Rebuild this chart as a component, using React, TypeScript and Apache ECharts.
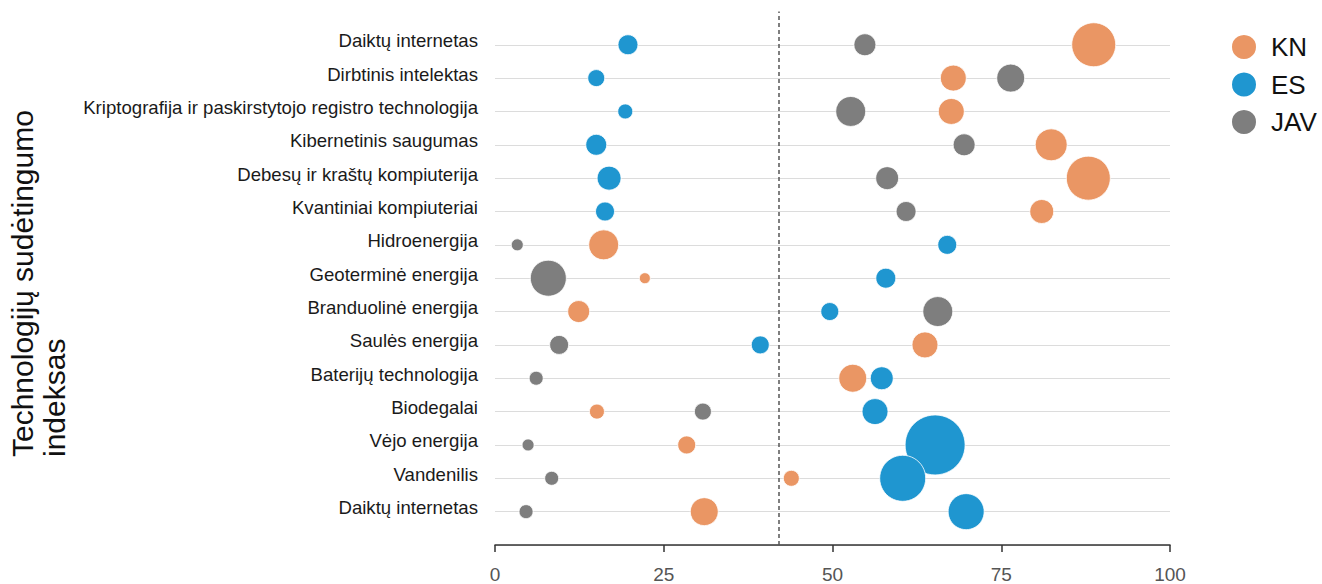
import React, { useEffect, useRef } from "react";
import * as echarts from "echarts";

const categories = [
  "Daiktų internetas",
  "Dirbtinis intelektas",
  "Kriptografija ir paskirstytojo registro technologija",
  "Kibernetinis saugumas",
  "Debesų ir kraštų kompiuterija",
  "Kvantiniai kompiuteriai",
  "Hidroenergija",
  "Geoterminė energija",
  "Branduolinė energija",
  "Saulės energija",
  "Baterijų technologija",
  "Biodegalai",
  "Vėjo energija",
  "Vandenilis",
  "Daiktų internetas",
];

const seriesNames = ["KN", "ES", "JAV"];

// index values (x) per category, top to bottom
const knValues = [88.7, 67.9, 67.6, 82.4, 87.9, 81.0, 16.1, 22.2, 12.4, 63.7, 53.0, 15.1, 28.4, 43.9, 31.0];
const esValues = [19.7, 15.0, 19.3, 15.0, 16.9, 16.3, 67.0, 57.9, 49.6, 39.3, 57.3, 56.3, 65.2, 60.4, 69.8];
const javValues = [54.8, 76.4, 52.7, 69.5, 58.1, 60.9, 3.3, 7.9, 65.6, 9.5, 6.1, 30.8, 4.9, 8.4, 4.6];

// bubble sizes per category
const knSizes = [44, 26, 26, 32, 44, 24, 30, 11, 22, 26, 28, 15, 18, 16, 28];
const esSizes = [20, 17, 15, 21, 24, 19, 19, 20, 18, 18, 23, 26, 60, 46, 36];
const javSizes = [22, 28, 30, 22, 23, 20, 12, 36, 30, 19, 14, 17, 12, 14, 14];

const xTicks = [0, 25, 50, 75, 100];
const thresholdValue = 42;

const colors = ["#EA9664", "#1F96D0", "#7E7E7E"];

export default function App() {
  const ref = useRef<HTMLDivElement>(null);

  useEffect(() => {
    if (!ref.current) return;
    const chart = echarts.init(ref.current, undefined, { renderer: "svg" });
    const n = categories.length;
    const toData = (vals: number[], sizes: number[]) =>
      vals.map((v, i) => [v, n - i, sizes[i]]);

    const allVals = [knValues, esValues, javValues];
    const allSizes = [knSizes, esSizes, javSizes];

    const splitColors: string[] = [];
    for (let i = 0; i <= n + 1; i++) splitColors.push(i === n + 1 ? "transparent" : "#dcdcdc");

    const series: any[] = seriesNames.map((name, si) => ({
      name,
      type: "scatter",
      data: toData(allVals[si], allSizes[si]),
      symbolSize: (d: number[]) => d[2],
      itemStyle: { color: colors[si], opacity: 1, borderColor: "#fff", borderWidth: 0.8 },
      z: 3,
    }));
    series[0].markLine = {
      silent: true,
      symbol: "none",
      label: { show: false },
      lineStyle: { type: [4, 3], color: "#555", width: 1.5 },
      data: [{ xAxis: thresholdValue }],
      z: 1,
    };

    chart.setOption({
      animation: false,
      backgroundColor: "#fff",
      color: colors,
      grid: { left: 495, right: 152, top: 11.4, bottom: 39 },
      legend: {
        data: seriesNames,
        orient: "vertical",
        left: 1230,
        top: 33,
        padding: 0,
        icon: "circle",
        itemWidth: 26,
        itemHeight: 26,
        itemGap: 9.5,
        textStyle: {
          fontSize: 26,
          lineHeight: 26,
          color: "#111",
          fontFamily: "Liberation Sans, Arial, sans-serif",
          padding: [0, 0, 0, 9],
        },
      },
      xAxis: {
        type: "value",
        min: 0,
        max: 100,
        interval: 25,
        axisLine: { show: true, lineStyle: { color: "#333", width: 1.5 } },
        axisTick: { show: true, length: 7, lineStyle: { color: "#333", width: 1.5 } },
        splitLine: { show: false },
        axisLabel: {
          margin: 20,
          fontSize: 19,
          color: "#555",
          fontFamily: "Liberation Sans Narrow, Liberation Sans, Arial, sans-serif",
          formatter: (v: number) => (xTicks.includes(v) ? String(v) : ""),
        },
      },
      yAxis: {
        type: "value",
        min: 0,
        max: n + 1,
        interval: 1,
        axisLine: { show: false },
        axisTick: { show: false },
        splitLine: { show: true, lineStyle: { color: splitColors, width: 1.2 } },
        axisLabel: {
          margin: 17,
          fontSize: 18.6,
          color: "#1a1a1a",
          fontFamily: "Liberation Sans, Arial, sans-serif",
          verticalAlign: "bottom",
          lineHeight: 8,
          formatter: (v: number) => (v >= 1 && v <= n ? categories[n - v] : ""),
        },
      },
      graphic: [
        {
          type: "text",
          x: 6,
          y: 457,
          rotation: Math.PI / 2,
          style: {
            text: "Technologijų sudėtingumo\nindeksas",
            fontSize: 30,
            lineHeight: 32,
            fill: "#111",
            fontFamily: "Liberation Sans, Arial, sans-serif",
            align: "left",
            verticalAlign: "top",
          },
        },
      ],
      series,
    });
    return () => chart.dispose();
  }, []);

  return <div ref={ref} style={{ width: 1322, height: 584, position: "absolute", left: 0, top: 0 }} />;
}
